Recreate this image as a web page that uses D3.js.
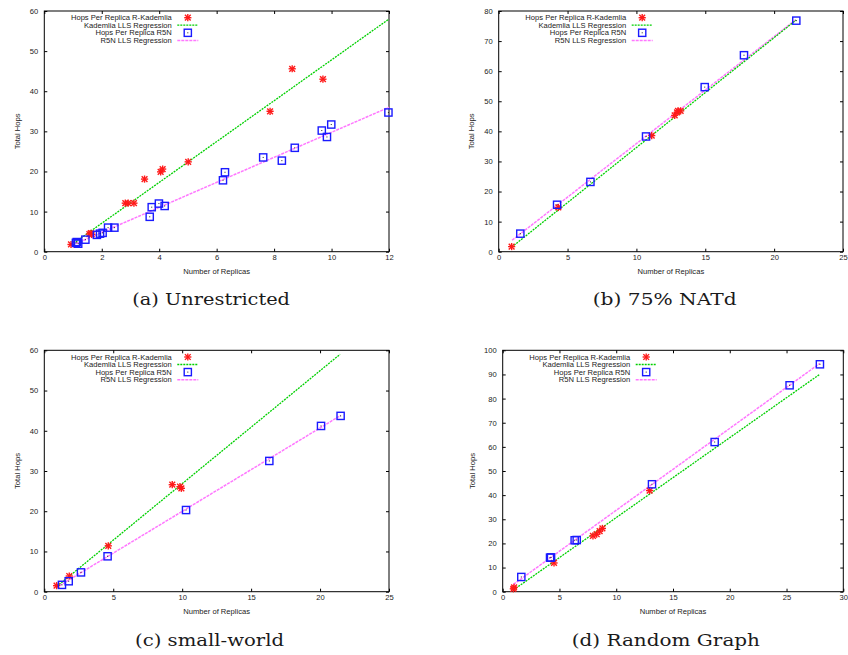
<!DOCTYPE html>
<html><head><meta charset="utf-8">
<script src="https://cdn.jsdelivr.net/npm/d3@7"></script>
<style>body{margin:0;background:#fff}svg{display:block}</style>
</head><body>
<svg id="c" width="848" height="655"></svg>
<script>
// ---- Data ----
// (a) Unrestricted
const kadPointsA = [[0.93,1.8],[1.57,4.4],[1.62,4.6],[1.65,4.3],[2.82,12.1],[2.92,12.1],[3.12,12.1],[3.49,18.1],[4.05,19.9],[4.12,20.6],[5.01,22.4],[7.86,35.0],[8.63,45.6],[9.70,43.0]];
const r5nPointsA = [[1.10,2.2],[1.13,2.4],[1.18,2.0],[1.43,3.0],[1.83,4.2],[1.94,4.5],[2.03,4.7],[2.22,6.0],[2.44,6.0],[3.67,8.7],[3.74,11.1],[3.99,12.0],[4.19,11.4],[6.22,17.8],[6.29,19.8],[7.62,23.5],[8.27,22.7],[8.72,25.9],[9.66,30.2],[9.84,28.6],[9.99,31.7],[11.98,34.7]];
const kadLineA = [[1.1,2.5],[12,58]];
const r5nLineA = [[1.1,2.0],[12,36.0]];
// (b) 75% NATd
const kadPointsB = [[0.94,1.7],[4.33,14.7],[11.11,38.6],[12.78,45.3],[12.95,46.3],[13.02,46.8],[13.21,46.8]];
const r5nPointsB = [[1.57,6.0],[4.24,15.6],[6.66,23.2],[10.70,38.3],[14.96,54.7],[17.81,65.3],[21.61,76.8]];
const kadLineB = [[0.94,1.5],[21.6,77.0]];
const r5nLineB = [[0.97,3.8],[21.6,77.2]];
// (c) small-world
const kadPointsC = [[0.89,1.5],[1.81,3.9],[4.64,11.4],[9.28,26.6],[9.84,26.1],[9.94,25.7]];
const r5nPointsC = [[1.28,1.7],[1.77,2.6],[2.66,4.8],[4.59,8.8],[10.28,20.3],[16.32,32.5],[20.07,41.2],[21.49,43.7]];
const kadLineC = [[0.9,1.3],[21.45,59.0]];
const r5nLineC = [[1.1,1.5],[21.49,43.8]];
// (d) Random Graph
const kadPointsD = [[0.94,1.2],[1.0,1.8],[4.52,11.9],[7.95,23.1],[8.28,23.8],[8.54,25.1],[8.78,26.2],[12.94,41.9]];
const r5nPointsD = [[1.64,6.1],[4.17,14.1],[4.26,14.2],[6.34,21.3],[6.52,21.4],[13.15,44.5],[18.67,62.0],[25.27,85.5],[27.94,94.2]];
const kadLineD = [[0.94,0.7],[27.94,90.1]];
const r5nLineD = [[0.94,3.0],[27.94,94.6]];

const legendLabels = ["Hops Per Replica R-Kademlia","Kademlia LLS Regression","Hops Per Replica R5N","R5N LLS Regression"];
const captions = ["(a) Unrestricted","(b) 75% NATd","(c) small-world","(d) Random Graph"];
const xDomains = [[0,12],[0,25],[0,25],[0,30]];
const yDomains = [[0,60],[0,80],[0,60],[0,100]];
const xTickStep = [2,5,5,5];
const yTickStep = [10,10,10,10];
const xLabel = "Number of Replicas";
const yLabel = "Total Hops";

// ---- Layout ----
const boxes = [
  {l:44.3,r:389,t:11,b:251.7,capX:132.3,capW:157.7,capY:305},
  {l:498.7,r:843,t:11,b:251.7,capX:592.7,capW:144,capY:305},
  {l:44.3,r:389,t:350.3,b:591.7,capX:135,capW:149,capY:645.5},
  {l:502.7,r:843.3,t:350.3,b:591.7,capX:571.7,capW:188.3,capY:645.5}
];
const panels = [
  {kp:kadPointsA,rp:r5nPointsA,kl:kadLineA,rl:r5nLineA},
  {kp:kadPointsB,rp:r5nPointsB,kl:kadLineB,rl:r5nLineB},
  {kp:kadPointsC,rp:r5nPointsC,kl:kadLineC,rl:r5nLineC},
  {kp:kadPointsD,rp:r5nPointsD,kl:kadLineD,rl:r5nLineD}
];
const RED="#ff1a1a", GREEN="#00d000", BLUE="#1a1aff", PINK="#ff78ff", TXT="#222";
const FONT="'Liberation Sans', Arial, sans-serif";
const FS=7.6;

const svg = d3.select("#c");

function star(g, x, y, s){
  const h=s;
  const p = g.append("g").attr("stroke",RED).attr("stroke-width",1.4).attr("fill","none");
  p.append("line").attr("x1",x-h).attr("x2",x+h).attr("y1",y).attr("y2",y);
  p.append("line").attr("x1",x).attr("x2",x).attr("y1",y-h).attr("y2",y+h);
  p.append("line").attr("x1",x-h*0.8).attr("x2",x+h*0.8).attr("y1",y-h*0.8).attr("y2",y+h*0.8);
  p.append("line").attr("x1",x-h*0.8).attr("x2",x+h*0.8).attr("y1",y+h*0.8).attr("y2",y-h*0.8);
}
function square(g, x, y, s){
  g.append("rect").attr("x",x-s).attr("y",y-s).attr("width",2*s).attr("height",2*s)
    .attr("fill","none").attr("stroke",BLUE).attr("stroke-width",1.4);
  g.append("rect").attr("x",x-0.5).attr("y",y-0.5).attr("width",1).attr("height",1).attr("fill","#223");
}

panels.forEach((p,i)=>{
  const bx = boxes[i];
  const x = d3.scaleLinear().domain(xDomains[i]).range([bx.l,bx.r]);
  const y = d3.scaleLinear().domain(yDomains[i]).range([bx.b,bx.t]);
  const g = svg.append("g");
  const xt = d3.range(xDomains[i][0], xDomains[i][1]+1e-9, xTickStep[i]);
  const yt = d3.range(yDomains[i][0], yDomains[i][1]+1e-9, yTickStep[i]);
  const tl = 3;
  const axB = d3.axisBottom(x).tickValues(xt).tickSize(-tl).tickPadding(5).tickFormat(d3.format("d"));
  const axT = d3.axisTop(x).tickValues(xt).tickSize(-tl).tickFormat("");
  const axL = d3.axisLeft(y).tickValues(yt).tickSize(-tl).tickPadding(6).tickFormat(d3.format("d"));
  const axR = d3.axisRight(y).tickValues(yt).tickSize(-tl).tickFormat("");
  const gb = g.append("g").attr("transform",`translate(0,${bx.b})`).call(axB);
  const gt = g.append("g").attr("transform",`translate(0,${bx.t})`).call(axT);
  const gl = g.append("g").attr("transform",`translate(${bx.l},0)`).call(axL);
  const gr = g.append("g").attr("transform",`translate(${bx.r},0)`).call(axR);
  [gb,gt,gl,gr].forEach(a=>{
    a.select(".domain").remove();
    a.selectAll(".tick line").attr("stroke","#000").attr("stroke-width",1);
    a.selectAll("text").attr("font-family",FONT).attr("font-size",FS).attr("fill",TXT);
  });
  gb.selectAll("text").attr("dy","0.5em");
  g.append("rect").attr("x",bx.l).attr("y",bx.t).attr("width",bx.r-bx.l).attr("height",bx.b-bx.t)
    .attr("fill","none").attr("stroke","#000").attr("stroke-width",1);

  // axis labels
  g.append("text").attr("x",(bx.l+bx.r)/2).attr("y",bx.b+22.7).attr("text-anchor","middle")
    .attr("font-family",FONT).attr("font-size",FS).attr("fill",TXT).text(xLabel);
  const ylx = i===3 ? bx.l-30 : bx.l-27;
  g.append("text").attr("transform",`translate(${ylx},${(bx.t+bx.b)/2}) rotate(-90)`)
    .attr("text-anchor","middle").attr("dy","0.35em")
    .attr("font-family",FONT).attr("font-size",FS).attr("fill",TXT).text(yLabel);

  // regression lines
  const line = d3.line().x(d=>x(d[0])).y(d=>y(d[1]));
  g.append("path").datum(p.rl).attr("d",line).attr("fill","none").attr("stroke",PINK)
    .attr("stroke-width",1.5).attr("stroke-dasharray","3,1");
  g.append("path").datum(p.kl).attr("d",line).attr("fill","none").attr("stroke",GREEN)
    .attr("stroke-width",1.3).attr("stroke-dasharray","2,1");

  // points
  const pg = g.append("g");
  p.kp.forEach(d=>star(pg, x(d[0]), y(d[1]), 3.6));
  p.rp.forEach(d=>square(pg, x(d[0]), y(d[1]), 3.6));

  // legend
  const textEnd = bx.l + 127.5;
  const rows = [6.7,14.2,21.8,29.4].map(v=>bx.t+v);
  const lg = g.append("g");
  legendLabels.forEach((t,k)=>{
    lg.append("text").attr("x",textEnd).attr("y",rows[k]).attr("dy","0.35em").attr("text-anchor","end")
      .attr("font-family",FONT).attr("font-size",FS).attr("fill",TXT).text(t);
  });
  star(lg, textEnd+16, rows[0], 3.6);
  lg.append("line").attr("x1",textEnd+5.5).attr("x2",textEnd+26.5).attr("y1",rows[1]).attr("y2",rows[1])
    .attr("stroke",GREEN).attr("stroke-width",1.3).attr("stroke-dasharray","2,1");
  square(lg, textEnd+16, rows[2], 3.6);
  lg.append("line").attr("x1",textEnd+5.5).attr("x2",textEnd+26.5).attr("y1",rows[3]).attr("y2",rows[3])
    .attr("stroke",PINK).attr("stroke-width",1.5).attr("stroke-dasharray","3,1");

  // caption
  svg.append("text").attr("x",bx.capX).attr("y",bx.capY).attr("text-anchor","start")
    .attr("font-family","'DejaVu Serif','Liberation Serif',serif").attr("font-size",16.5).attr("fill","#1a1a1a")
    .attr("textLength",bx.capW).attr("lengthAdjust","spacingAndGlyphs")
    .text(captions[i]);
});
</script>
</body></html>
